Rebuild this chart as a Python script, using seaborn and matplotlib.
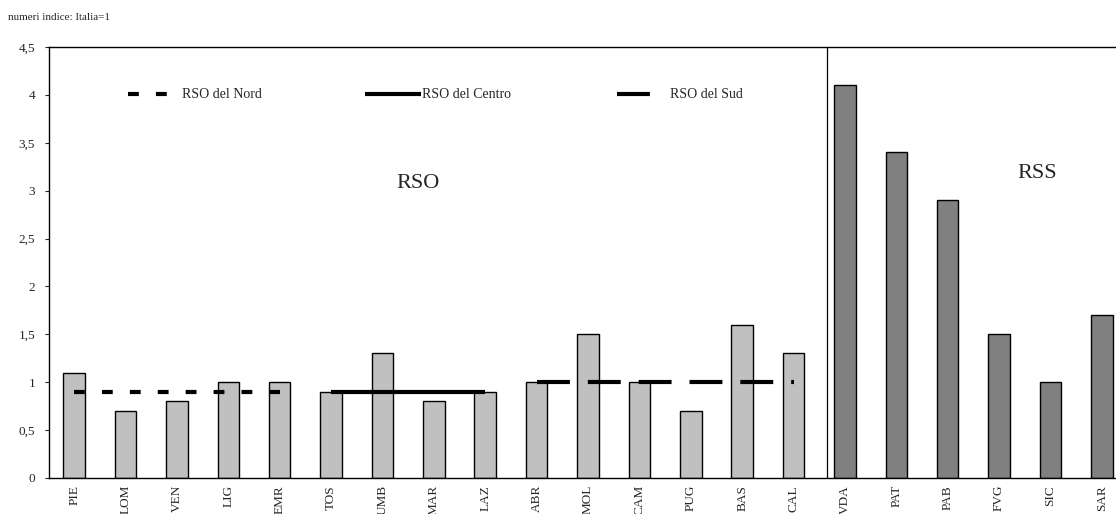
import matplotlib
matplotlib.use("Agg")
import matplotlib.pyplot as plt
from matplotlib.lines import Line2D
import pandas as pd
import seaborn as sns

# dati: numeri indice, Italia = 1
regioni = ["PIE", "LOM", "VEN", "LIG", "EMR", "TOS", "UMB", "MAR", "LAZ",
           "ABR", "MOL", "CAM", "PUG", "BAS", "CAL",
           "VDA", "PAT", "PAB", "FVG", "SIC", "SAR"]
gruppo = ["RSO"] * 15 + ["RSS"] * 6
valori = [1.1, 0.7, 0.8, 1.0, 1.0, 0.9, 1.3, 0.8, 0.9,
          1.0, 1.5, 1.0, 0.7, 1.6, 1.3,
          4.1, 3.4, 2.9, 1.5, 1.0, 1.7]

# medie delle RSO per ripartizione (prima regione, ultima regione, valore)
media_nord = ("PIE", "EMR", 0.9)
media_centro = ("TOS", "LAZ", 0.9)
media_sud = ("ABR", "CAL", 1.0)

y_ticks = [0, 0.5, 1, 1.5, 2, 2.5, 3, 3.5, 4, 4.5]
y_labels = ["0", "0,5", "1", "1,5", "2", "2,5", "3", "3,5", "4", "4,5"]

df = pd.DataFrame({"regione": regioni, "gruppo": gruppo, "valore": valori})

sns.set_style("white")
plt.rcParams["font.family"] = ["Liberation Serif", "DejaVu Serif"]

fig = plt.figure(figsize=(11.16, 5.14), dpi=100)
ax = fig.add_axes([49 / 1116, 1 - 478 / 514, 1078 / 1116, 431 / 514])

sns.barplot(data=df, x="regione", y="valore", hue="gruppo",
            palette={"RSO": "#c0c0c0", "RSS": "#808080"},
            dodge=False, width=0.42, edgecolor="black", linewidth=1.0,
            legend=False, ax=ax)

# linee delle medie
stili = {
    "nord": dict(color="black", lw=3, dashes=(2.6, 4.1)),
    "centro": dict(color="black", lw=3, ls="-"),
    "sud": dict(color="black", lw=3, dashes=(7.9, 4.3)),
}
for nome, (da, a, v) in [("nord", media_nord), ("centro", media_centro), ("sud", media_sud)]:
    x0, x1 = regioni.index(da), regioni.index(a)
    ax.plot([x0, x1], [v, v], solid_capstyle="butt", dash_capstyle="butt", **stili[nome])

# separatore RSO / RSS
ax.axvline(14.65, color="black", lw=0.9)

ax.text(6.69, 3.07, "RSO", fontsize=16, ha="center", va="center")
ax.text(18.75, 3.18, "RSS", fontsize=16, ha="center", va="center")

ax.set_xlim(-0.49, 20.49)
ax.set_ylim(0, 4.5)
ax.set_yticks(y_ticks)
ax.set_yticklabels(y_labels)
ax.set_xlabel("")
ax.set_ylabel("")
ax.tick_params(axis="y", left=True, length=3, width=0.8, pad=7, labelsize=9.5)
ax.tick_params(axis="x", bottom=False, length=0, pad=5, labelsize=9.5, labelrotation=90)
for lab in ax.get_xticklabels():
    lab.set_va("top")

for s in ["top", "left", "bottom"]:
    ax.spines[s].set_color("black")
    ax.spines[s].set_linewidth(1.0)
ax.spines["right"].set_visible(False)

# legende separate, come nell'originale
voci = [
    ("RSO del Nord", stili["nord"], 128, 3.1, 0.8),
    ("RSO del Centro", stili["centro"], 365, 4.0, 0.1),
    ("RSO del Sud", stili["sud"], 617, 2.6, 1.2),
]
for testo, st, xpx, hl, pad in voci:
    h = Line2D([], [], solid_capstyle="butt", dash_capstyle="butt", **st)
    leg = fig.legend([h], [testo], loc="center left",
                     bbox_to_anchor=(xpx / 1116, 1 - 95 / 514),
                     frameon=False, fontsize=10, borderpad=0, borderaxespad=0,
                     handlelength=hl, handletextpad=pad)

fig.text(8 / 1116, 1 - 17 / 514, "numeri indice: Italia=1", fontsize=8, va="center")

fig.savefig("out.png", dpi=100)
